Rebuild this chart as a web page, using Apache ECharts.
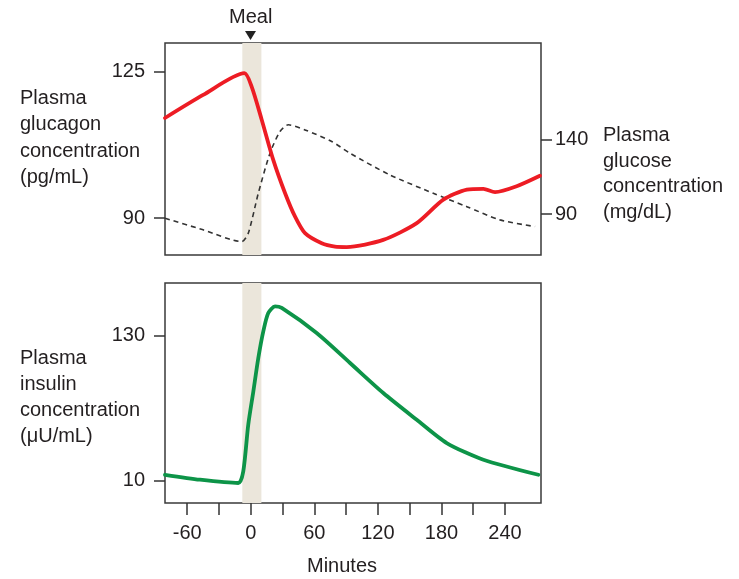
<!DOCTYPE html>
<html>
<head>
<meta charset="utf-8">
<script src="https://cdn.jsdelivr.net/npm/echarts@6/dist/echarts.min.js"></script>
<style>
  html, body { margin: 0; padding: 0; background: #fff; }
  #chart { width: 739px; height: 579px; }
</style>
</head>
<body>
<div id="chart"></div>
<script>
// minutes relative to the meal
const glucagonMinutes = [-81, -45, -6.1, 0.8, 10.3, 21.2, 32.3, 41.7, 51.2, 67, 79.5, 90.6, 125, 156.7, 181.8, 204, 219.6, 230.6, 251, 273];
const glucagonValues  = [113.9, 119.4, 124.6, 121.4, 113.5, 103.9, 96, 90.4, 86.4, 84, 83.2, 83.1, 84.8, 88.8, 94.4, 96.8, 97.0, 96.2, 97.6, 100.1];

const glucoseMinutes = [-81, -45, -8.6, -2.4, 7.1, 18.1, 27.6, 35.4, 51.2, 76.4, 93.7, 131.4, 172.3, 204, 235.3, 268.4];
const glucoseValues  = [87.3, 79.5, 71.6, 77.2, 104.1, 131, 145.6, 150.1, 146.7, 138.9, 131, 116.4, 104.1, 95.1, 86.2, 81.7];

const insulinMinutes = [-81, -48, -11.8, -7.1, -2.4, 2.4, 7.1, 11.8, 16.5, 22.9, 29.2, 62.2, 93.7, 125.1, 156.7, 185, 219.6, 271.5];
const insulinValues  = [14.7, 10.6, 7.9, 17.5, 56.2, 83.8, 111.5, 133.6, 148.8, 154.3, 153, 132.2, 107.4, 82.5, 60.3, 41, 27.2, 14.7];

const mealWindow = [-8, 10];
const minuteTicks = [-60, -30, 0, 30, 60, 90, 120, 150, 180, 210, 240];
const minuteLabels = [-60, 0, 60, 120, 180, 240];
const glucagonTicks = [90, 125];
const glucoseTicks = [90, 140];
const insulinTicks = [10, 130];

const pairs = (xs, ys) => xs.map((x, i) => [x, ys[i]]);

const ink = '#231f20';
const font = '"Liberation Sans", Arial, Helvetica, sans-serif';

const chart = echarts.init(document.getElementById('chart'));

const tickStyle = { color: '#333', width: 1.5 };
const labelStyle = { color: ink, fontSize: 20, fontFamily: font, margin: 20 };

function yAxis(gridIndex, position, min, max, ticks, margin) {
  return {
    type: 'value', gridIndex: gridIndex, position: position, min: min, max: max,
    axisLine: { show: false, onZero: false },
    splitLine: { show: false },
    axisTick: { show: true, inside: false, length: 11, customValues: ticks, lineStyle: tickStyle },
    axisLabel: Object.assign({}, labelStyle, { customValues: ticks, margin: margin })
  };
}

const option = {
  animation: false,
  backgroundColor: '#fff',
  grid: [
    { left: 165, right: 198, top: 43, height: 212, show: true, borderColor: '#3a3a3a', borderWidth: 1.5, backgroundColor: 'transparent' },
    { left: 165, right: 198, top: 283, height: 220, show: true, borderColor: '#3a3a3a', borderWidth: 1.5, backgroundColor: 'transparent' }
  ],
  xAxis: [
    {
      type: 'value', gridIndex: 0, min: -81, max: 274,
      axisLine: { show: false, onZero: false }, axisTick: { show: false }, axisLabel: { show: false }, splitLine: { show: false }
    },
    {
      type: 'value', gridIndex: 1, min: -81, max: 274, position: 'bottom',
      axisLine: { show: false, onZero: false },
      splitLine: { show: false },
      axisTick: { show: true, inside: false, length: 12, customValues: minuteTicks, lineStyle: tickStyle },
      axisLabel: Object.assign({}, labelStyle, { customValues: minuteLabels })
    }
  ],
  yAxis: [
    yAxis(0, 'left', 81.2, 131.8, glucagonTicks, 20),
    yAxis(0, 'right', 62.6, 205.1, glucoseTicks, 14),
    yAxis(1, 'left', -8.7, 173.7, insulinTicks, 20)
  ],
  series: [
    {
      name: 'Glucose', type: 'line', xAxisIndex: 0, yAxisIndex: 1,
      data: pairs(glucoseMinutes, glucoseValues),
      showSymbol: false, smooth: 0.25, z: 3,
      lineStyle: { color: '#333', width: 1.6, type: [5, 4] },
      markArea: {
        silent: true,
        itemStyle: { color: '#ebe6db' },
        data: [[{ xAxis: mealWindow[0] }, { xAxis: mealWindow[1] }]]
      }
    },
    {
      name: 'Glucagon', type: 'line', xAxisIndex: 0, yAxisIndex: 0,
      data: pairs(glucagonMinutes, glucagonValues),
      showSymbol: false, smooth: 0.25, z: 4,
      lineStyle: { color: '#ed1c24', width: 3.8, cap: 'round' }
    },
    {
      name: 'Insulin', type: 'line', xAxisIndex: 1, yAxisIndex: 2,
      data: pairs(insulinMinutes, insulinValues),
      showSymbol: false, smooth: 0.25, z: 4,
      lineStyle: { color: '#0d9448', width: 3.8, cap: 'round' },
      markArea: {
        silent: true,
        itemStyle: { color: '#ebe6db' },
        data: [[{ xAxis: mealWindow[0] }, { xAxis: mealWindow[1] }]]
      }
    }
  ],
  graphic: [
    { type: 'text', left: 229, top: 7, style: { text: 'Meal', fill: ink, font: '20px ' + font } },
    { type: 'polygon', shape: { points: [[245, 31], [256, 31], [250.5, 40]] }, style: { fill: '#222' } },
    { type: 'text', left: 20, top: 85, style: { text: 'Plasma\nglucagon\nconcentration\n(pg/mL)', fill: ink, font: '20px ' + font, lineHeight: 26.5 } },
    { type: 'text', left: 603, top: 123, style: { text: 'Plasma\nglucose\nconcentration\n(mg/dL)', fill: ink, font: '20px ' + font, lineHeight: 25.5 } },
    { type: 'text', left: 20, top: 345, style: { text: 'Plasma\ninsulin\nconcentration\n(\u03bcU/mL)', fill: ink, font: '20px ' + font, lineHeight: 26 } },
    { type: 'text', left: 307, top: 556, style: { text: 'Minutes', fill: ink, font: '20px ' + font } }
  ]
};

chart.setOption(option);
</script>
</body>
</html>
